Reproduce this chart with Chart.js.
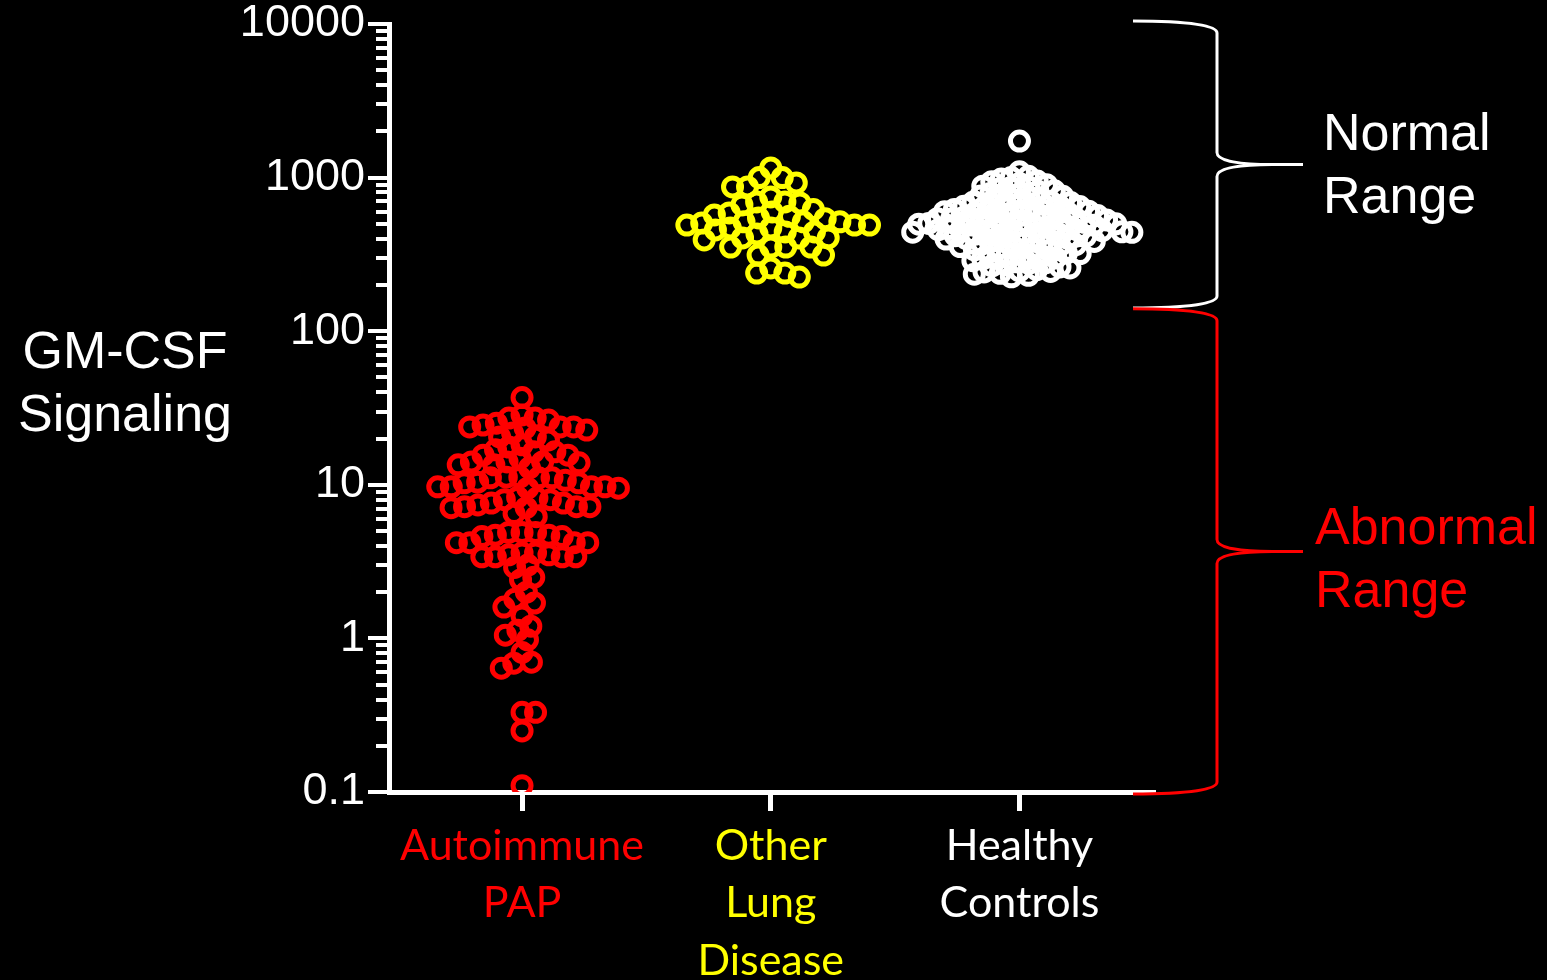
<!DOCTYPE html>
<html>
<head>
<meta charset="utf-8">
<script src="https://cdn.jsdelivr.net/npm/chart.js@4"></script>
<style>
  html, body { margin: 0; padding: 0; background: #000; }
  canvas { display: block; }
</style>
</head>
<body>
<canvas id="chart" width="1547" height="980"></canvas>
<script>
const categories = [["Autoimmune", "PAP"], ["Other", "Lung", "Disease"], ["Healthy", "Controls"]];
const categoryColors = ["#ff0000", "#ffff00", "#ffffff"];

const papValues = [
    37,
    26.4, 27.2, 23.8, 24.5, 23.8, 20.5, 22.7, 27.2, 28.5, 25.2, 23.8, 23.4, 18.2,
    20.5, 19.6, 21.7, 17.6,
    14.1, 14.9, 12.9, 15.6, 13.5, 14.1, 16.4, 14.1, 15.6, 16.4, 13.9, 16.9, 13.5,
    9.5, 11.1, 9.7, 9.7, 9.7, 9.7, 11.2, 10.3, 10.3, 10.7, 11.1, 11.1, 10.4, 11.2, 9.5,
    8.0, 7.6, 7.2, 7.1, 7.2, 6.2, 8.3, 7.1, 7.2, 8.0, 8.2, 7.6, 6.5, 7.4,
    4.9, 4.7, 4.7, 4.2, 4.9, 4.9, 4.6, 4.6, 4.2, 4.2, 4.2,
    3.5, 3.6, 3.4, 3.4, 2.9, 3.6, 3.4, 3.4, 3.5, 3.0,
    2.4, 2.5, 2.0, 1.7, 1.8, 1.6, 1.4, 1.13, 1.2, 1.05, 0.98, 0.81, 0.69, 0.70, 0.64,
    0.33, 0.33, 0.25, 0.11
];
const otherLungValues = [
    1155, 1000, 1000, 923, 869, 869, 748, 694, 694, 684, 664, 620, 598, 589, 571, 560,
    546, 540, 515, 515, 515, 506, 491, 491, 491, 470, 470, 456, 443, 443, 430, 405, 405,
    405, 393, 353, 353, 353, 353, 313, 313, 258, 239, 239, 225
];
const healthyValues = [
    1730, 1090, 1020, 980, 940, 915, 880, 870, 845, 820, 815, 790, 760, 755, 742, 720,
    705, 700, 688, 676, 662, 655, 648, 640, 633, 631, 620, 612, 604, 600, 596, 583, 579,
    571, 566, 560, 556, 549, 545, 540, 537, 530, 528, 522, 515, 512, 508, 503, 500, 497,
    492, 490, 486, 480, 478, 472, 470, 466, 461, 458, 455, 451, 447, 444, 441, 437, 433,
    430, 428, 423, 419, 416, 411, 405, 402, 398, 393, 388, 384, 379, 376, 371, 366, 360,
    356, 349, 344, 338, 335, 329, 322, 318, 311, 305, 300, 296, 288, 283, 276, 270, 266,
    258, 252, 247, 243, 238, 231, 226,
    1000, 950, 900, 860, 780, 730, 690, 650, 600, 560, 520, 480, 440, 400, 370, 345,
    320, 300, 280, 262, 245, 235
];
const groups = [papValues, otherLungValues, healthyValues];

const yTickValues = [0.1, 1, 10, 100, 1000, 10000];
const yTickLabels = ["0.1", "1", "10", "100", "1000", "10000"];
const normalRange = [146, 10000];
const abnormalRange = [0.1, 140];

// spacing of the swarm per group, in px
const swarmGaps = [13.5, 15, 10];

function minorTicks() {
    const out = [];
    for (let e = -1; e < 4; e++) {
        for (let m = 1; m < 10; m++) out.push(m * Math.pow(10, e));
    }
    out.push(10000);
    return out;
}

const axisPlugin = {
    id: "axisDecor",
    beforeDatasetsDraw(chart) {
        const { ctx, chartArea, scales: { y } } = chart;
        ctx.save();
        ctx.strokeStyle = "#fff";
        ctx.lineWidth = 4;
        y.ticks.forEach(t => {
            const major = yTickValues.some(v => Math.abs(v - t.value) < 1e-9);
            const py = Math.round(y.getPixelForValue(t.value));
            ctx.beginPath();
            ctx.moveTo(chartArea.left - (major ? 21 : 13), py);
            ctx.lineTo(chartArea.left, py);
            ctx.stroke();
        });
        ctx.restore();
    },
    afterDraw(chart) {
        const { ctx, chartArea, scales: { y } } = chart;
        ctx.save();
        ctx.fillStyle = "#fff";
        ctx.font = "52px 'Liberation Sans', Arial, sans-serif";
        ctx.textAlign = "center";
        ctx.textBaseline = "alphabetic";
        const midY = (chartArea.top + chartArea.bottom) / 2;
        ctx.fillText("GM-CSF", 125, midY - 40);
        ctx.fillText("Signaling", 125, midY + 23);

        const brace = (range, color) => {
            const top = range[1] >= 10000 ? chartArea.top - 3 : y.getPixelForValue(range[1]);
            const bottom = y.getPixelForValue(range[0]) + 2;
            const mid = (top + bottom) / 2;
            const x0 = chartArea.right - 22, xv = chartArea.right + 62, xt = chartArea.right + 148;
            ctx.strokeStyle = color;
            ctx.lineWidth = 3;
            ctx.beginPath();
            ctx.moveTo(x0, top);
            ctx.bezierCurveTo(xv - 30, top, xv, top + 4, xv, top + 12);
            ctx.lineTo(xv, mid - 12);
            ctx.bezierCurveTo(xv, mid - 3, xv + 25, mid, xv + 55, mid);
            ctx.lineTo(xt, mid);
            ctx.moveTo(xv + 55, mid);
            ctx.bezierCurveTo(xv + 25, mid, xv, mid + 3, xv, mid + 12);
            ctx.lineTo(xv, bottom - 12);
            ctx.bezierCurveTo(xv, bottom - 4, xv - 30, bottom, x0, bottom);
            ctx.stroke();
            return mid;
        };
        const nMid = brace(normalRange, "#fff");
        const aMid = brace(abnormalRange, "#ff0000");

        ctx.textAlign = "left";
        ctx.fillStyle = "#fff";
        ctx.fillText("Normal", 1323, nMid - 14);
        ctx.fillText("Range", 1323, nMid + 49);
        ctx.fillStyle = "#ff0000";
        ctx.fillText("Abnormal", 1315, aMid - 7);
        ctx.fillText("Range", 1315, aMid + 56);
        ctx.restore();
    }
};

const chart = new Chart(document.getElementById("chart"), {
    type: "scatter",
    data: {
        datasets: groups.map((vals, i) => ({
            label: categories[i].join(" "),
            data: vals.map(v => ({ x: i, y: v })),
            pointRadius: 9,
            pointHoverRadius: 9,
            pointBorderWidth: 5,
            pointBackgroundColor: "rgba(0,0,0,0)",
            pointBorderColor: categoryColors[i]
        }))
    },
    options: {
        responsive: false,
        animation: false,
        devicePixelRatio: 1,
        layout: { padding: { top: 24, right: 392, left: 0, bottom: 0 } },
        plugins: { legend: { display: false }, tooltip: { enabled: false } },
        scales: {
            x: {
                type: "linear",
                min: -0.535,
                max: 2.545,
                afterBuildTicks: s => { s.ticks = [0, 1, 2].map(v => ({ value: v })); },
                afterFit: s => { s.height = 188; s.paddingLeft = 0; s.paddingRight = 0; },
                grid: { display: true, drawOnChartArea: false, drawTicks: true, tickLength: 19, tickWidth: 5, tickColor: "#fff" },
                border: { display: true, color: "#fff", width: 5 },
                ticks: {
                    autoSkip: false,
                    maxRotation: 0,
                    padding: 6,
                    font: { family: "Lato, 'Open Sans', sans-serif", size: 43, lineHeight: 1.34 },
                    color: ctx => categoryColors[ctx.index],
                    callback: v => categories[v]
                }
            },
            y: {
                type: "logarithmic",
                min: 0.1,
                max: 10000,
                afterBuildTicks: s => { s.ticks = minorTicks().map(v => ({ value: v })); },
                afterFit: s => { s.width = 389; s.paddingTop = 0; s.paddingBottom = 0; },
                grid: { display: false, drawTicks: false },
                border: { display: true, color: "#fff", width: 5 },
                ticks: {
                    autoSkip: false,
                    padding: 24,
                    color: "#fff",
                    font: { family: "'Liberation Sans', Arial, sans-serif", size: 45, lineHeight: 1.07 },
                    callback: v => {
                        const i = yTickValues.findIndex(t => Math.abs(t - v) < 1e-9);
                        return i >= 0 ? yTickLabels[i] : "";
                    }
                }
            }
        }
    },
    plugins: [axisPlugin]
});

// beeswarm placement computed through the chart's own scales
function swarm(values, center, gap) {
    const xs = chart.scales.x, ys = chart.scales.y;
    const cx = xs.getPixelForValue(center);
    const order = values.map((v, i) => ({ v, i, py: ys.getPixelForValue(v) }))
        .sort((a, b) => a.py - b.py);
    const placed = [];
    const out = new Array(values.length);
    order.forEach(p => {
        const cands = [0];
        placed.forEach(q => {
            const dy = Math.abs(q.py - p.py);
            if (dy < gap) {
                const dx = Math.sqrt(gap * gap - dy * dy);
                cands.push(q.dx + dx, q.dx - dx);
            }
        });
        cands.sort((a, b) => Math.abs(a) - Math.abs(b));
        const ok = cands.find(c => placed.every(q => Math.hypot(q.dx - c, q.py - p.py) >= gap - 0.01));
        p.dx = ok;
        placed.push(p);
        out[p.i] = xs.getValueForPixel(cx + ok);
    });
    return out;
}

groups.forEach((vals, i) => {
    const xs = swarm(vals, i, swarmGaps[i]);
    chart.data.datasets[i].data = vals.map((v, k) => ({ x: xs[k], y: v }));
});
chart.update("none");
</script>
</body>
</html>
